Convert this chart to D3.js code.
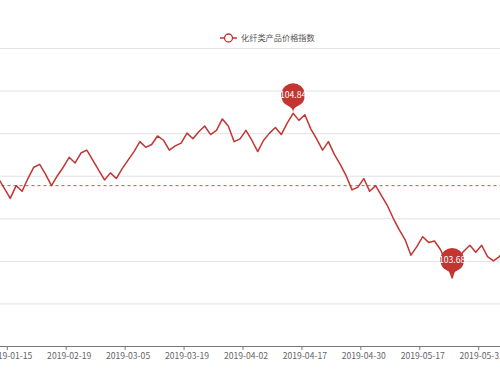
<!DOCTYPE html>
<html lang="zh">
<head>
<meta charset="UTF-8">
<title>化纤类产品价格指数</title>
<style>
    html, body { margin: 0; padding: 0; background: #fff; }
    #chart { width: 500px; height: 375px; overflow: hidden; }
    text { font-family: "Microsoft YaHei", "Noto Sans CJK SC", "Noto Sans", sans-serif; }
</style>
</head>
<body>
<div id="chart"></div>
<script src="https://d3js.org/d3.v7.min.js"></script>
<script>
// series name
var seriesName = "化纤类产品价格指数";

// trading dates (the visible part of the chart)
var dates = [
    "2019-01-11", "2019-01-14", "2019-01-15", "2019-01-17", "2019-01-21", "2019-01-23", "2019-01-25", "2019-01-29",
    "2019-01-31", "2019-02-12", "2019-02-14", "2019-02-18", "2019-02-19", "2019-02-20", "2019-02-21", "2019-02-22",
    "2019-02-25", "2019-02-26", "2019-02-27", "2019-02-28", "2019-03-01", "2019-03-04", "2019-03-05", "2019-03-06",
    "2019-03-07", "2019-03-08", "2019-03-11", "2019-03-12", "2019-03-13", "2019-03-14", "2019-03-15", "2019-03-18",
    "2019-03-19", "2019-03-20", "2019-03-21", "2019-03-22", "2019-03-25", "2019-03-26", "2019-03-27", "2019-03-28",
    "2019-03-29", "2019-04-01", "2019-04-02", "2019-04-03", "2019-04-04", "2019-04-08", "2019-04-09", "2019-04-10",
    "2019-04-11", "2019-04-12", "2019-04-15", "2019-04-16", "2019-04-17", "2019-04-18", "2019-04-19", "2019-04-22",
    "2019-04-23", "2019-04-24", "2019-04-25", "2019-04-26", "2019-04-28", "2019-04-29", "2019-04-30", "2019-05-06",
    "2019-05-07", "2019-05-08", "2019-05-09", "2019-05-10", "2019-05-13", "2019-05-14", "2019-05-15", "2019-05-16",
    "2019-05-17", "2019-05-20", "2019-05-21", "2019-05-22", "2019-05-23", "2019-05-24", "2019-05-27", "2019-05-28",
    "2019-05-29", "2019-05-30", "2019-05-31", "2019-06-03", "2019-06-04", "2019-06-05", "2019-06-06"
];

// index values
var values = [
    104.38, 104.31, 104.24, 104.33, 104.29, 104.38, 104.46, 104.48, 104.41, 104.33,
    104.40, 104.46, 104.53, 104.49, 104.56, 104.58, 104.51, 104.44, 104.37, 104.42,
    104.38, 104.45, 104.51, 104.57, 104.64, 104.60, 104.62, 104.68, 104.65, 104.58,
    104.61, 104.63, 104.70, 104.66, 104.71, 104.75, 104.69, 104.72, 104.80, 104.75,
    104.64, 104.66, 104.72, 104.65, 104.57, 104.65, 104.70, 104.74, 104.69, 104.77,
    104.84, 104.79, 104.83, 104.73, 104.66, 104.58, 104.64, 104.55, 104.48, 104.40,
    104.30, 104.32, 104.38, 104.29, 104.33, 104.26, 104.19, 104.10, 104.02, 103.95,
    103.84, 103.90, 103.97, 103.93, 103.94, 103.88, 103.79, 103.68, 103.82, 103.87,
    103.91, 103.86, 103.91, 103.83, 103.80, 103.83, 103.88
];

// dates that carry an axis label
var xTickLabels = ["2019-01-15", "2019-02-19", "2019-03-05", "2019-03-19", "2019-04-02",
                   "2019-04-17", "2019-04-30", "2019-05-17", "2019-05-31"];

// y axis ticks (split lines)
var yTicks = [103.2, 103.5, 103.8, 104.1, 104.4, 104.7, 105.0, 105.3];

// average line value (whole series)
var averageValue = 104.33;

var width = 500, height = 375;
var color = "#c23531";

var svg = d3.select("#chart").append("svg")
    .attr("width", width)
    .attr("height", height);

svg.append("rect").attr("width", width).attr("height", height).attr("fill", "#fff");

// the plot is wider than the window, only the middle part is visible
var step = 5.8925;
var xStart = 7.3 - 2 * step;
var x = d3.scaleBand()
    .domain(dates)
    .range([xStart, xStart + dates.length * step])
    .paddingInner(0).paddingOuter(0);

var y = d3.scaleLinear()
    .domain([103.2, 105.3])
    .range([346, 48]);

var bw = x.bandwidth();
function cx(d) { return x(d) + bw / 2; }

// split lines
var grid = svg.append("g")
    .attr("transform", "translate(-20,0)")
    .call(d3.axisLeft(y).tickValues(yTicks).tickSize(-560).tickFormat(""));
grid.select(".domain").remove();
grid.selectAll("line").attr("stroke", "#e2e2e2").attr("stroke-width", 1);

// x axis
var xAxis = svg.append("g")
    .attr("transform", "translate(0,346)")
    .call(d3.axisBottom(x).tickValues(xTickLabels).tickSize(4).tickSizeOuter(0).tickPadding(3));
xAxis.select(".domain").attr("stroke", "#777");
xAxis.selectAll(".tick line")
    .attr("stroke", "#777")
    .attr("transform", "translate(" + (-bw / 2) + ",0)");
xAxis.selectAll(".tick text")
    .attr("fill", "#666")
    .style("font-size", "8.6px")
    .style("font-family", "\"Microsoft YaHei\", \"Noto Sans CJK SC\", sans-serif");

// average mark line
svg.append("line")
    .attr("x1", x.range()[0]).attr("x2", x.range()[1])
    .attr("y1", y(averageValue)).attr("y2", y(averageValue))
    .attr("stroke", color)
    .attr("stroke-width", 1)
    .attr("stroke-opacity", 0.85)
    .attr("stroke-dasharray", "3,3");

// the series line
var line = d3.line()
    .x(function(d, i) { return cx(dates[i]); })
    .y(function(d) { return y(d); });

svg.append("path")
    .datum(values)
    .attr("d", line)
    .attr("fill", "none")
    .attr("stroke", color)
    .attr("stroke-width", 1.5)
    .attr("stroke-linejoin", "round");

// pin shaped mark points for max / min
function pinPath(px, py, r) {
    var h = 3 * r;
    var dy = r * r / (h - r);
    var cy = py - h + r + dy;
    var angle = Math.asin(dy / r);
    var dx = Math.cos(angle) * r;
    var tanX = Math.sin(angle), tanY = Math.cos(angle);
    var cpLen = r * 0.6, cpLen2 = r * 0.7;
    var p = d3.path();
    p.moveTo(px - dx, cy + dy);
    p.arc(px, cy, r, Math.PI - angle, Math.PI * 2 + angle);
    p.bezierCurveTo(px + dx - tanX * cpLen, cy + dy + tanY * cpLen, px, py - cpLen2, px, py);
    p.bezierCurveTo(px, py - cpLen2, px - dx + tanX * cpLen, cy + dy + tanY * cpLen, px - dx, cy + dy);
    p.closePath();
    return { d: p.toString(), cy: cy };
}

var iMax = d3.maxIndex(values), iMin = d3.minIndex(values);
var marks = [iMax, iMin];

var pins = svg.append("g").selectAll("g")
    .data(marks)
    .enter().append("g");

pins.each(function(i) {
    var px = cx(dates[i]), py = y(values[i]);
    var pin = pinPath(px, py, 12);
    var g = d3.select(this);
    g.append("path").attr("d", pin.d).attr("fill", color);
    g.append("text")
        .attr("x", px).attr("y", pin.cy + 3.2)
        .attr("text-anchor", "middle")
        .attr("fill", "#fff")
        .style("font-size", "8.6px")
        .text(values[i].toFixed(2));
});

// legend
var legend = svg.append("g").attr("transform", "translate(0,38)");
legend.append("line")
    .attr("x1", 220).attr("x2", 237)
    .attr("stroke", color).attr("stroke-width", 1.5);
legend.append("circle")
    .attr("cx", 228.5).attr("r", 4)
    .attr("fill", "#fff").attr("stroke", color).attr("stroke-width", 1.3);
legend.append("text")
    .attr("x", 241).attr("y", 3)
    .attr("fill", "#555")
    .style("font-size", "8.2px")
    .text(seriesName);
</script>
</body>
</html>
